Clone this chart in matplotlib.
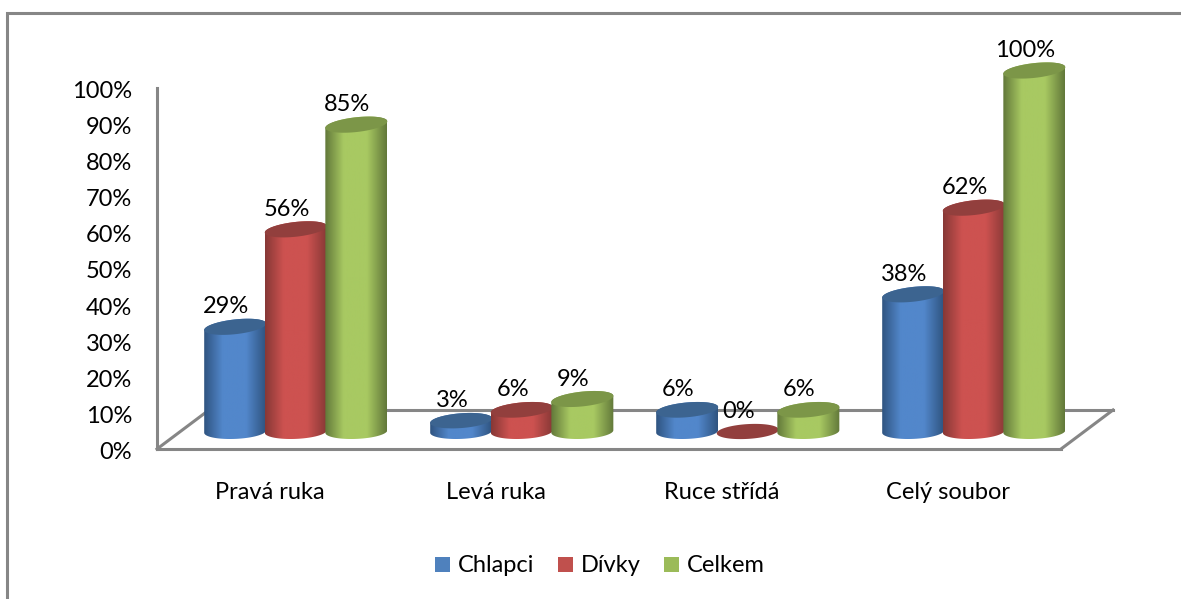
import numpy as np
import matplotlib
matplotlib.use('Agg')
import matplotlib.pyplot as plt
from matplotlib.colors import LinearSegmentedColormap
from matplotlib.patches import Patch, Polygon, Rectangle
from matplotlib.transforms import ScaledTranslation

plt.rcParams['font.family'] = ['Lato', 'DejaVu Sans']

categories = ['Pravá ruka', 'Levá ruka', 'Ruce střídá', 'Celý soubor']
series_names = ['Chlapci', 'Dívky', 'Celkem']
chlapci = [29, 3, 6, 38]
divky = [56, 6, 0, 62]
celkem = [85, 9, 6, 100]
y_ticks = list(range(0, 101, 10))

series = [chlapci, divky, celkem]
# okraj, stred valce, horni plocha, legenda
body_edge = ['#2f5480', '#873836', '#62783a']
body_mid = ['#5287cb', '#cd5250', '#a8c962']
top_cols = ['#3c6490', '#923f3d', '#7c9648']
legend_cols = ['#4f81bd', '#c0504d', '#9bbb59']

W, H = 1181, 599
GRAY = '#868686'

fig = plt.figure(figsize=(W / 100, H / 100), dpi=100)
ax = fig.add_axes([157 / W, (H - 449) / H, 904 / W, 361 / H])
ax.set_facecolor('none')

# ramecek grafu, pravy a dolni okraj je mimo obrazek
fig.add_artist(Rectangle((7 / W, -0.1), 1.2, (H - 13) / H + 0.1, transform=fig.transFigure,
                         fill=False, edgecolor=GRAY, linewidth=2.2))

# podlaha
dx_back = 52 / 226
y_back = 39 / 3.61
ax.plot([-0.5, -0.5 + dx_back], [0, y_back], color=GRAY, lw=2.2, clip_on=False, zorder=1)
ax.plot([-0.5 + dx_back, 3.5 + dx_back], [y_back, y_back], color=GRAY, lw=2.2, clip_on=False, zorder=1)
ax.plot([3.5, 3.5 + dx_back], [0, y_back], color=GRAY, lw=2.2, clip_on=False, zorder=1)

half_w = 31 / 226
b = 2.05
base_y = 4.85
t = np.linspace(0, 2 * np.pi, 121)


def ellipse_xy(cx, cy, tilt):
    return np.column_stack([cx + half_w * np.cos(t), cy + b * np.sin(t) + tilt * np.cos(t)])


z = 2
for j, vals in enumerate(series):
    cmap = LinearSegmentedColormap.from_list('c', [(0, body_edge[j]), (0.3, body_mid[j]), (0.68, body_mid[j]),
                                                   (1, body_edge[j])])
    for i, v in enumerate(vals):
        cx = i + 0.114 + (j - 1) * 0.268
        top = v + base_y
        tilt_top = 0.5 + 0.4 * min(v, 10) / 10
        low = ellipse_xy(cx, base_y, 0.35)
        up = ellipse_xy(cx, top, tilt_top)
        # plast valce: spodni pulka dole, horni elipsa nahore
        half = len(t) // 2
        outline = np.vstack([low[half:], up[:half + 1]])
        if v > 0:
            poly = Polygon(outline, closed=True, transform=ax.transData)
            im = ax.imshow(np.linspace(0, 1, 128).reshape(1, -1), cmap=cmap, aspect='auto',
                           extent=[cx - half_w, cx + half_w, base_y - 4, top + 4], zorder=z)
            im.set_clip_path(poly)
            im.set_clip_box(fig.bbox)
        ax.add_patch(Polygon(up, closed=True, facecolor=top_cols[j], edgecolor='none', clip_on=False, zorder=z + 0.1))
        ax.annotate(f'{v}%', (cx, top), xytext=(-9, 20), textcoords='offset pixels', ha='center', va='center',
                    fontsize=17, color='black', annotation_clip=False, zorder=20)
        z += 0.2

ax.set_xlim(-0.5, 3.5)
ax.set_ylim(0, 100)
ax.set_xticks(range(4))
ax.set_xticklabels(categories, fontsize=17)
ax.set_yticks(y_ticks)
ax.set_yticklabels([f'{v}%' for v in y_ticks], fontsize=17)
ax.tick_params(axis='x', length=0, pad=24)
ax.tick_params(axis='y', length=0, pad=18)
# popisky osy y o kousek niz
for lab in ax.get_yticklabels():
    lab.set_transform(lab.get_transform() + ScaledTranslation(0, -1.5 / 100, fig.dpi_scale_trans))

for s in ['top', 'right']:
    ax.spines[s].set_visible(False)
for s in ['left', 'bottom']:
    ax.spines[s].set_color(GRAY)
    ax.spines[s].set_linewidth(2.2)

handles = [Patch(facecolor=c, edgecolor='none', label=n) for c, n in zip(legend_cols, series_names)]
fig.legend(handles=handles, loc='center', bbox_to_anchor=(600 / W, (H - 566) / H), ncol=3, frameon=False, fontsize=17,
           handlelength=0.62, handleheight=0.62, handletextpad=0.35, columnspacing=1.0)

fig.savefig('out.png', dpi=100)
print('Saved out.png')
